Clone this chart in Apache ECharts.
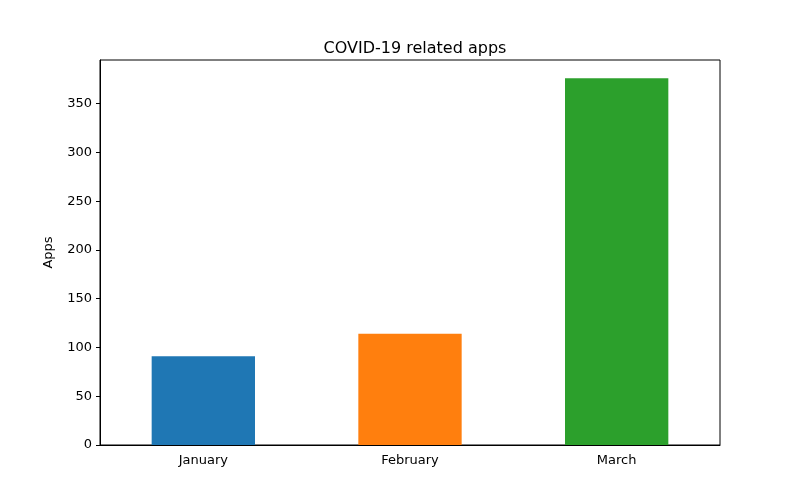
<!DOCTYPE html>
<html>
<head>
<meta charset="utf-8">
<script src="https://cdn.jsdelivr.net/npm/echarts@6/dist/echarts.min.js"></script>
<style>html,body{margin:0;padding:0;background:#fff}#c{width:800px;height:500px}</style>
</head>
<body>
<div id="c"></div>
<script>
const categories = ['January', 'February', 'March'];
const values = [91, 114, 376];
const colors = ['#1f77b4', '#ff7f0e', '#2ca02c'];
const yTicks = [0, 50, 100, 150, 200, 250, 300, 350];

const chart = echarts.init(document.getElementById('c'));
const font = 'DejaVu Sans';
chart.setOption({
  animation: false,
  backgroundColor: '#fff',
  title: {
    text: 'COVID-19 related apps',
    left: 410, top: 36, textAlign: 'center',
    textStyle: {fontFamily: font, fontSize: 16, fontWeight: 'normal', color: '#000'}
  },
  grid: {left: 100, right: 80, top: 60, bottom: 55, show: true, borderColor: '#000', borderWidth: 1},
  xAxis: {
    type: 'category', data: categories,
    axisLine: {lineStyle: {color: '#000'}},
    axisTick: {alignWithLabel: true, length: 4, lineStyle: {color: '#000'}},
    axisLabel: {fontFamily: font, fontSize: 13, color: '#000', margin: 9}
  },
  yAxis: {
    type: 'value', min: 0, max: 394.8, interval: 50,
    name: 'Apps', nameLocation: 'middle', nameGap: 45,
    nameTextStyle: {fontFamily: font, fontSize: 13, color: '#000'},
    splitLine: {show: false},
    axisLine: {show: true, lineStyle: {color: '#000'}},
    axisTick: {show: true, length: 4, customValues: yTicks, lineStyle: {color: '#000'}},
    axisLabel: {fontFamily: font, fontSize: 13, color: '#000', margin: 8, customValues: yTicks}
  },
  series: [{
    type: 'bar', barWidth: '50%',
    data: values.map((v, i) => ({value: v, itemStyle: {color: colors[i]}}))
  }]
});
</script>
</body>
</html>
